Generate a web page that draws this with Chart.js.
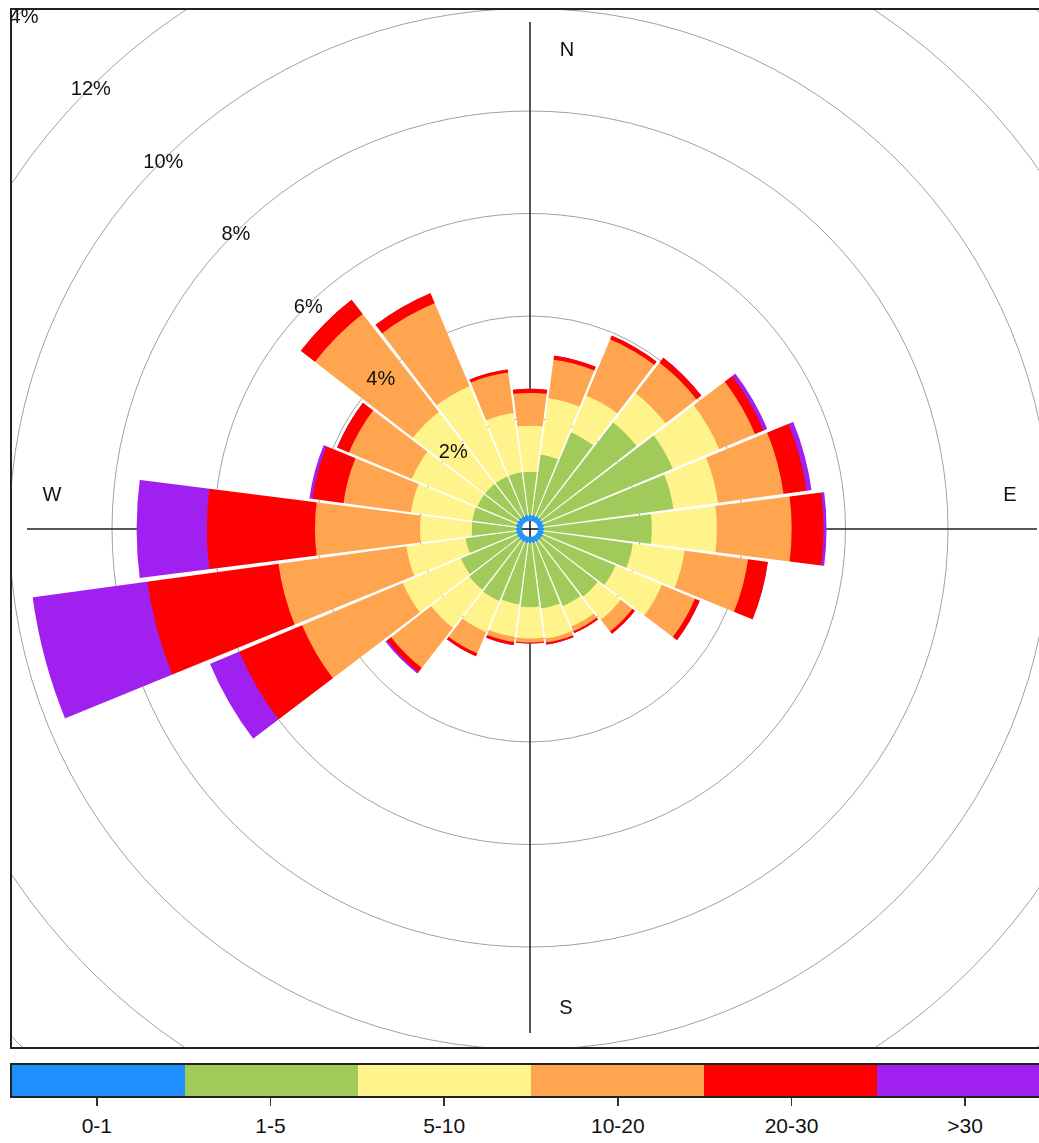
<!DOCTYPE html>
<html><head><meta charset="utf-8">
<script src="https://cdn.jsdelivr.net/npm/chart.js@4.4.1/dist/chart.umd.min.js"></script>
<style>
html,body{margin:0;padding:0;background:#fff;width:1039px;height:1143px;overflow:hidden;font-family:"Liberation Sans",Arial,sans-serif;}
#box{position:absolute;left:10px;top:8px;width:1042px;height:1041px;border:2px solid #222;overflow:hidden;box-sizing:border-box;background:#fff;}
#rose{position:absolute;left:-310px;top:-309px;}
#bar{position:absolute;left:10px;top:1063px;width:1042px;height:35px;border:2px solid #222;box-sizing:border-box;display:flex;}
#bar div{flex:1;height:100%;}
.tk{position:absolute;top:1098px;width:1.5px;height:8px;background:#333;}
.lb{position:absolute;top:1114px;width:120px;text-align:center;font-size:21px;color:#111;}
</style></head>
<body>
<div id="box"><canvas id="rose" width="1656" height="1656"></canvas></div>
<div id="bar"></div>
<div id="legendtext"></div>
<script>
// ---- data (percent frequency per speed bin, per direction) ----
const directions = [0,15,30,45,60,75,90,105,120,135,150,165,180,195,210,225,240,255,270,285,300,315,330,345];
const speedBins = ['0-1','1-5','5-10','10-20','20-30','>30'];
const binColors = ['#1E90FF','#A0CB5B','#FFF48C','#FFA54F','#FF0000','#A020F0'];
const bin0to1   = [0.12,0.12,0.12,0.12,0.12,0.12,0.12,0.12,0.12,0.12,0.12,0.12,0.12,0.12,0.12,0.12,0.12,0.12,0.12,0.12,0.12,0.12,0.12,0.12];
const bin1to5   = [0.84,1.19,1.77,2.36,2.75,2.55,2.10,1.75,1.54,1.40,1.36,1.29,1.25,1.21,1.25,1.23,1.19,0.99,0.86,0.86,0.84,0.84,0.84,0.84];
const bin5to10  = [0.90,1.11,0.78,0.72,0.98,0.88,1.27,1.02,0.98,0.57,0.43,0.59,0.61,0.64,0.66,0.94,1.23,1.17,1.01,1.21,1.39,1.78,1.91,1.17];
const bin10to20 = [0.64,0.76,1.19,0.76,0.76,1.29,1.46,1.25,0.70,0.29,0.10,0.08,0.08,0.10,0.45,0.99,2.13,2.52,2.05,1.33,1.33,2.42,1.76,0.80];
const bin20to30 = [0.08,0.08,0.08,0.12,0.18,0.45,0.62,0.39,0.10,0.06,0.04,0.04,0.02,0.06,0.06,0.10,1.33,2.58,2.11,0.61,0.25,0.35,0.21,0.06];
const bin30plus = [0.00,0.00,0.00,0.00,0.08,0.10,0.06,0.00,0.00,0.00,0.00,0.00,0.00,0.00,0.00,0.04,0.62,2.26,1.37,0.06,0.00,0.00,0.00,0.00];
const ringTicks = [2,4,6,8,10,12,14,16];
const ringLabels = ['2%','4%','6%','8%','10%','12%','14%','16%'];
const compass = ['N','E','S','W'];

// ---- build cumulative stacks ----
const bins = [bin0to1,bin1to5,bin5to10,bin10to20,bin20to30,bin30plus];
const cumul = [];
let run = directions.map(()=>0);
bins.forEach(b=>{ run = run.map((v,i)=>+(v+b[i]).toFixed(3)); cumul.push(run.slice()); });
const totals = cumul[cumul.length-1];

const PX_PER_PCT = 51.25, HOLE = 8;
const rMin = -HOLE/PX_PER_PCT;
const rMax = 16;
const START = -180/directions.length;
const GRID = '#a0a0a0';

const rosePlugin = {
  id:'rose',
  beforeDatasetsDraw(chart){
    const s = chart.scales.r, ctx = chart.ctx, cx = s.xCenter, cy = s.yCenter;
    ctx.save();
    ctx.strokeStyle = '#222'; ctx.lineWidth = 1.5;
    ctx.beginPath();
    ctx.moveTo(cx, cy-507); ctx.lineTo(cx, cy+504);
    ctx.moveTo(cx-503, cy); ctx.lineTo(cx+507, cy);
    ctx.stroke();
    ctx.restore();
  },
  afterDatasetsDraw(chart){
    const s = chart.scales.r, ctx = chart.ctx, cx = s.xCenter, cy = s.yCenter;
    const n = directions.length;
    const h = s.getDistanceFromCenterForValue(0);
    const r0 = s.getDistanceFromCenterForValue(bin0to1[0]) - 1;
    ctx.save();
    // tapered gaps between direction wedges
    const gap = new Path2D();
    for (let k=0;k<n;k++){
      const a = (START + k*360/n - 90)*Math.PI/180;
      const v = Math.max(totals[k], totals[(k-1+n)%n]);
      const R = s.getDistanceFromCenterForValue(v) + 3;
      const ux = Math.cos(a), uy = Math.sin(a), nx = -uy, ny = ux;
      const w0 = (0.8 + 0.01*r0)/2, w1 = (0.8 + 0.01*R)/2;
      gap.moveTo(cx+r0*ux+w0*nx, cy+r0*uy+w0*ny);
      gap.lineTo(cx+R*ux+w1*nx, cy+R*uy+w1*ny);
      gap.lineTo(cx+R*ux-w1*nx, cy+R*uy-w1*ny);
      gap.lineTo(cx+r0*ux-w0*nx, cy+r0*uy-w0*ny);
      gap.closePath();
    }
    ctx.fillStyle = '#fff';
    ctx.fill(gap);
    // grid rings visible through the gaps
    ctx.save();
    ctx.clip(gap);
    ctx.strokeStyle = GRID; ctx.lineWidth = 1;
    ringTicks.forEach(t=>{ ctx.beginPath(); ctx.arc(cx,cy,s.getDistanceFromCenterForValue(t),0,Math.PI*2); ctx.stroke(); });
    ctx.restore();
    // central hole and cross
    ctx.fillStyle = '#fff';
    ctx.beginPath(); ctx.arc(cx,cy,h,0,Math.PI*2); ctx.fill();
    ctx.strokeStyle = '#111'; ctx.lineWidth = 1.5;
    ctx.beginPath(); ctx.moveTo(cx-h,cy); ctx.lineTo(cx+h,cy); ctx.moveTo(cx,cy-h); ctx.lineTo(cx,cy+h); ctx.stroke();
    // ring labels along NW diagonal
    ctx.fillStyle = '#111'; ctx.font = '20px "Liberation Sans", Arial, sans-serif';
    ctx.textAlign = 'center'; ctx.textBaseline = 'middle';
    ringTicks.forEach((t,i)=>{
      const d = s.getDistanceFromCenterForValue(t) - 2;
      const a = -135*Math.PI/180;
      ctx.fillText(ringLabels[i], cx + d*Math.cos(a), cy + d*Math.sin(a));
    });
    // compass letters
    ctx.fillText(compass[0], cx+37, cy-479);
    ctx.fillText(compass[1], cx+480, cy-34);
    ctx.fillText(compass[2], cx+36, cy+479);
    ctx.fillText(compass[3], cx-478, cy-34);
    ctx.restore();
  }
};

new Chart(document.getElementById('rose'), {
  type:'polarArea',
  data:{
    labels: directions.map(String),
    datasets: cumul.map((c,i)=>({ label: speedBins[i], data: c, backgroundColor: binColors[i], borderWidth: 0 }))
  },
  options:{
    responsive:false, animation:false,
    layout:{padding:0},
    plugins:{legend:{display:false}, tooltip:{enabled:false}},
    scales:{ r:{
      min: rMin, max: rMax, startAngle: START,
      ticks:{display:false},
      afterBuildTicks(scale){ scale.ticks = [{value:rMin}].concat(ringTicks.map(v=>({value:v}))); },
      grid:{color:GRID, lineWidth:1, circular:true},
      angleLines:{display:false},
      pointLabels:{display:false}
    }}
  },
  plugins:[rosePlugin]
});

// ---- colour key ----
const bar = document.getElementById('bar');
const lt = document.getElementById('legendtext');
const segW = 1042/speedBins.length;
speedBins.forEach((b,i)=>{
  const d = document.createElement('div'); d.style.background = binColors[i]; bar.appendChild(d);
  const cxp = 10 + segW*(i+0.5);
  const t = document.createElement('div'); t.className='tk'; t.style.left = (cxp-0.75)+'px'; lt.appendChild(t);
  const l = document.createElement('div'); l.className='lb'; l.style.left = (cxp-60)+'px'; l.textContent = b; lt.appendChild(l);
});
</script>
</body></html>
